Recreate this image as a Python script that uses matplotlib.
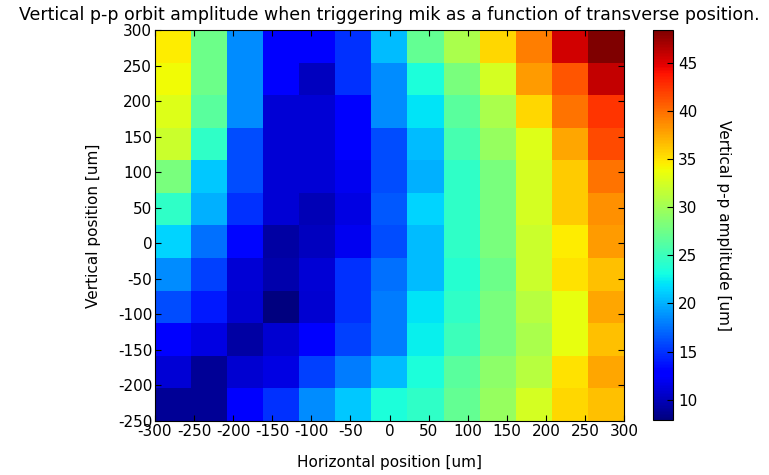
import matplotlib
matplotlib.use("Agg")
import matplotlib.pyplot as plt
import numpy as np

plt.rcParams["axes.unicode_minus"] = False

x_min, x_max = -300, 300
y_min, y_max = -250, 300
x_ticks = list(range(-300, 301, 50))
y_ticks = list(range(-250, 301, 50))
cbar_ticks = [10, 15, 20, 25, 30, 35, 40, 45]

# amplitude [um], rows from top (y=300) to bottom (y=-250), columns x=-300..300
row_300 = [34.5, 27.5, 18.5, 12.5, 12.5, 15.0, 20.5, 27.0, 30.5, 35.5, 39.3, 45.5, 48.4]
row_250 = [34.0, 27.5, 18.5, 12.5, 10.2, 15.0, 18.5, 23.5, 28.0, 32.5, 38.0, 41.0, 46.0]
row_200 = [33.0, 26.5, 18.5, 11.0, 11.0, 12.5, 18.5, 22.0, 26.5, 30.5, 35.5, 39.8, 42.5]
row_150 = [32.0, 24.5, 16.0, 11.0, 11.0, 12.8, 16.0, 20.5, 25.5, 29.5, 33.0, 37.5, 41.5]
row_100 = [28.0, 21.0, 16.0, 11.0, 11.0, 12.0, 16.0, 20.0, 24.5, 28.0, 32.5, 36.0, 39.8]
row_50 = [24.5, 20.0, 15.0, 11.0, 9.8, 11.5, 16.5, 21.5, 24.5, 28.0, 32.5, 36.0, 38.5]
row_0 = [21.5, 17.5, 13.2, 9.2, 10.2, 12.0, 16.0, 20.5, 24.5, 28.0, 32.0, 34.5, 38.0]
row_m50 = [18.5, 15.5, 11.0, 9.6, 11.0, 15.0, 17.5, 20.5, 24.0, 27.5, 32.0, 35.0, 36.5]
row_m100 = [16.0, 14.0, 10.8, 7.9, 10.8, 15.0, 18.0, 22.0, 24.5, 28.0, 31.0, 33.5, 37.5]
row_m150 = [13.0, 11.5, 9.2, 10.8, 12.5, 15.5, 18.0, 22.5, 25.0, 28.0, 30.5, 33.5, 36.5]
row_m200 = [11.0, 8.8, 10.8, 11.5, 15.5, 18.0, 20.5, 23.5, 26.5, 29.0, 31.0, 35.0, 37.5]
row_m250 = [8.8, 8.8, 13.0, 15.0, 18.5, 21.0, 23.5, 24.5, 27.0, 29.5, 32.5, 35.5, 36.5]

data = np.array([row_300, row_250, row_200, row_150, row_100, row_50, row_0,
                 row_m50, row_m100, row_m150, row_m200, row_m250])

fig = plt.figure(figsize=(7.69, 4.75), dpi=100)
ax = fig.add_axes([155/769, 1 - 421/475, 469/769, 391/475])
cax = fig.add_axes([653/769, 1 - 420/475, 20/769, 390/475])

im = ax.imshow(data, cmap="jet", extent=[x_min, x_max, y_min, y_max],
               aspect="auto", interpolation="nearest", origin="upper")
ax.set_xticks(x_ticks)
ax.set_yticks(y_ticks)
ax.set_xlim(x_min, x_max)
ax.set_ylim(y_min, y_max)
ax.tick_params(direction="in", top=True, right=True, labelsize=11, length=4, pad=2)
ax.set_xlabel("Horizontal position [um]", fontsize=11, labelpad=12)
ax.set_ylabel("Vertical position [um]", fontsize=11, labelpad=12)
ax.set_title("Vertical p-p orbit amplitude when triggering mik as a function of transverse position.",
             fontsize=12.5, pad=7)

cb = fig.colorbar(im, cax=cax, ticks=cbar_ticks)
cb.ax.tick_params(direction="in", labelsize=11, length=4)
cb.set_label("Vertical p-p amplitude [um]", rotation=270, labelpad=24, fontsize=11)

fig.savefig("out.png", dpi=100)
